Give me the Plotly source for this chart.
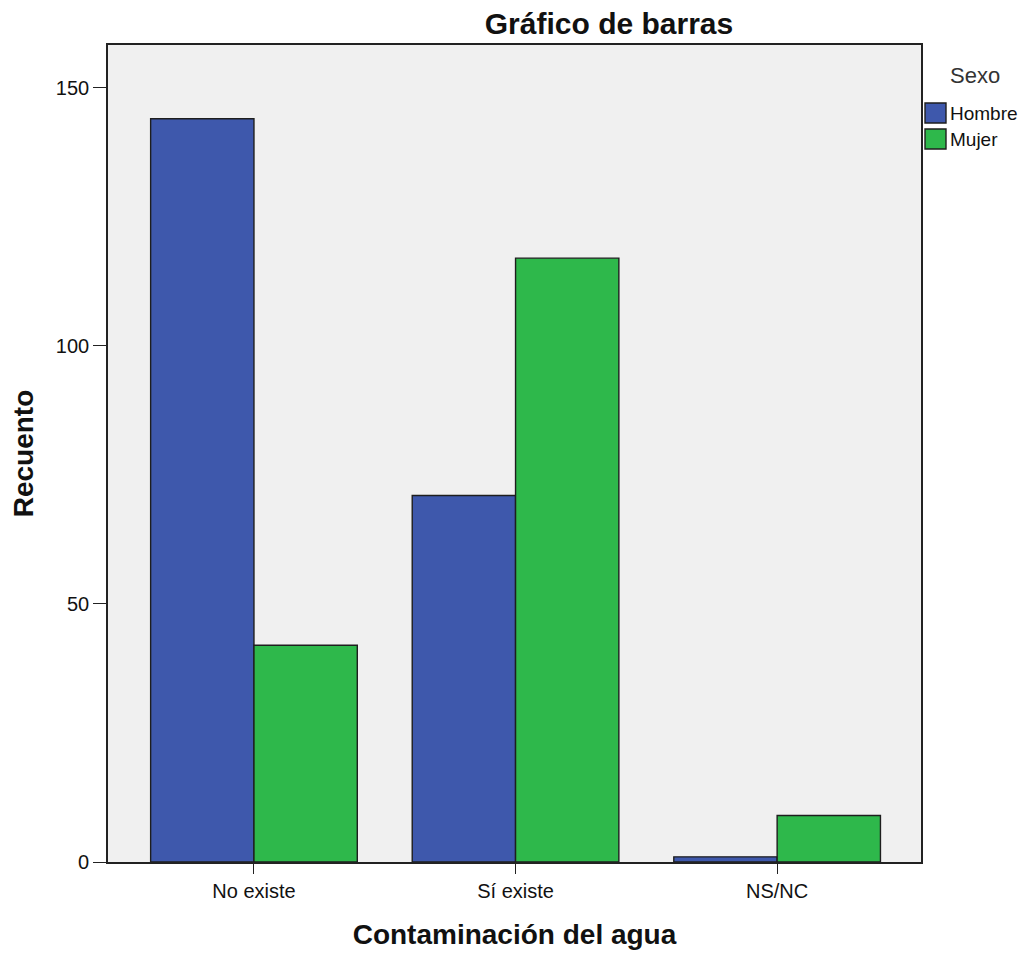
import plotly.graph_objects as go

categories = ["No existe", "Sí existe", "NS/NC"]
series_names = ["Hombre", "Mujer"]
hombre = [144, 71, 1]
mujer = [42, 117, 9]
colors = ["#3e58ac", "#2eb84b"]
y_ticks = [0, 50, 100, 150]
legend_title = "Sexo"

fig = go.Figure()
for name, vals, col in zip(series_names, [hombre, mujer], colors):
    fig.add_trace(go.Bar(name=name, x=categories, y=vals, showlegend=False,
                         marker=dict(color=col, line=dict(color="#1e1e1e", width=1.4))))

# Custom legend (positions in paper coordinates, plot area 813x817 px)
PW, PH = 813.0, 817.0
def px_x(p):
    return (p - 108) / PW
def px_y(q):
    return (862 - q) / PH

shapes = []
annotations = []
box_tops = [103, 129]
for name, col, top in zip(series_names, colors, box_tops):
    shapes.append(dict(type="rect", xref="paper", yref="paper",
                       x0=px_x(925), x1=px_x(946), y0=px_y(top + 20), y1=px_y(top),
                       fillcolor=col, line=dict(color="#1e1e1e", width=1.4)))
    annotations.append(dict(text=name, xref="paper", yref="paper", x=px_x(948), y=px_y(top + 10.5),
                            xanchor="left", yanchor="middle", showarrow=False,
                            font=dict(size=19, color="#111111")))
annotations.append(dict(text=legend_title, xref="paper", yref="paper", x=px_x(975), y=px_y(75),
                        xanchor="center", yanchor="middle", showarrow=False,
                        font=dict(size=22, color="#333333")))

fig.update_layout(
    width=1012, height=942,
    margin=dict(l=100, r=99, t=37, b=88, autoexpand=False),
    paper_bgcolor="white", plot_bgcolor="#f0f0f0",
    barmode="group", bargap=0.21, bargroupgap=0,
    font=dict(family="Liberation Sans, Arial, sans-serif", color="#222222"),
    title=dict(text="<b>Gráfico de barras</b>", xref="container", yref="container",
               x=(609 - 8) / 1012, xanchor="center", y=1 - (23 - 8) / 942, yanchor="middle",
               font=dict(size=30, color="#111111")),
    shapes=shapes, annotations=annotations,
    xaxis=dict(range=[-0.558, 2.55], showline=True, linecolor="#222222", linewidth=1.6, mirror=True,
               ticks="outside", ticklen=10, tickcolor="#222222", tickfont=dict(size=20, color="#111111"),
               title=dict(text="<b>Contaminación del agua</b>", font=dict(size=28, color="#111111"), standoff=24),
               showgrid=False),
    yaxis=dict(range=[0, 158.3], showline=True, linecolor="#222222", linewidth=1.6, mirror=True,
               ticks="outside", ticklen=13, tickcolor="#222222", tickfont=dict(size=20, color="#111111"),
               tickvals=y_ticks, showgrid=False, zeroline=False,
               title=dict(text="<b>Recuento</b>", font=dict(size=28, color="#111111"), standoff=14)),
)

fig.write_html("out.html")
